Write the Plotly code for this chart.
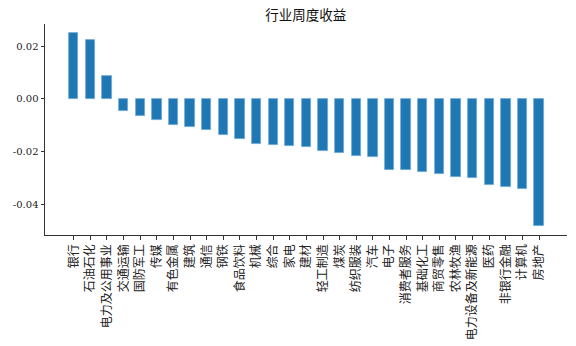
import plotly.graph_objects as go

industries = ["银行", "石油石化", "电力及公用事业", "交通运输", "国防军工", "传媒", "有色金属",
              "建筑", "通信", "钢铁", "食品饮料", "机械", "综合", "家电", "建材", "轻工制造",
              "煤炭", "纺织服装", "汽车", "电子", "消费者服务", "基础化工", "商贸零售",
              "农林牧渔", "电力设备及新能源", "医药", "非银行金融", "计算机", "房地产"]
returns = [0.0248, 0.0222, 0.0087, -0.0045, -0.0066, -0.0082, -0.0099,
           -0.0106, -0.0120, -0.0137, -0.0152, -0.0172, -0.0176, -0.0181, -0.0185, -0.0197,
           -0.0207, -0.0216, -0.0222, -0.0271, -0.0272, -0.0277, -0.0285,
           -0.0298, -0.0302, -0.0326, -0.0336, -0.0342, -0.0482]
y_ticks = [0.02, 0.00, -0.02, -0.04]
y_tick_text = ["0.02", "0.00", "-0.02", "-0.04"]

FONT = "DejaVu Serif, Noto Sans CJK SC, sans-serif"

x_idx = list(range(len(industries)))

fig = go.Figure(go.Bar(
    x=x_idx, y=returns, width=0.56,
    marker=dict(color="#1f77b4", line=dict(color="#6ea8d8", width=0.8)),
))

fig.update_layout(
    width=576, height=346,
    margin=dict(l=45, r=9, t=24, b=111),
    paper_bgcolor="white", plot_bgcolor="white",
    font=dict(family=FONT, size=10, color="#222"),
    showlegend=False,
    title=dict(text="行业周度收益", x=0.531, xanchor="center", y=0.955, yanchor="middle",
               font=dict(family=FONT, size=13.5, color="#111")),
    bargap=0,
)
fig.update_xaxes(
    range=[-1.73, 29.68], tickmode="array", tickvals=x_idx, ticktext=industries,
    tickangle=-90, showline=True, linecolor="#333", linewidth=1, automargin=False,
    ticks="outside", ticklen=3.5, tickcolor="#333", tickwidth=0.8,
    showgrid=False, zeroline=False, tickfont=dict(family=FONT, size=12, color="#222"),
)
fig.update_yaxes(
    range=[-0.0517, 0.02835], tickmode="array", tickvals=y_ticks, ticktext=y_tick_text,
    showline=True, linecolor="#333", linewidth=1, automargin=False,
    ticks="outside", ticklen=3.5, tickcolor="#333", tickwidth=0.8,
    showgrid=False, zeroline=False, tickfont=dict(family=FONT, size=10, color="#222"),
)

fig.write_html("out.html")
